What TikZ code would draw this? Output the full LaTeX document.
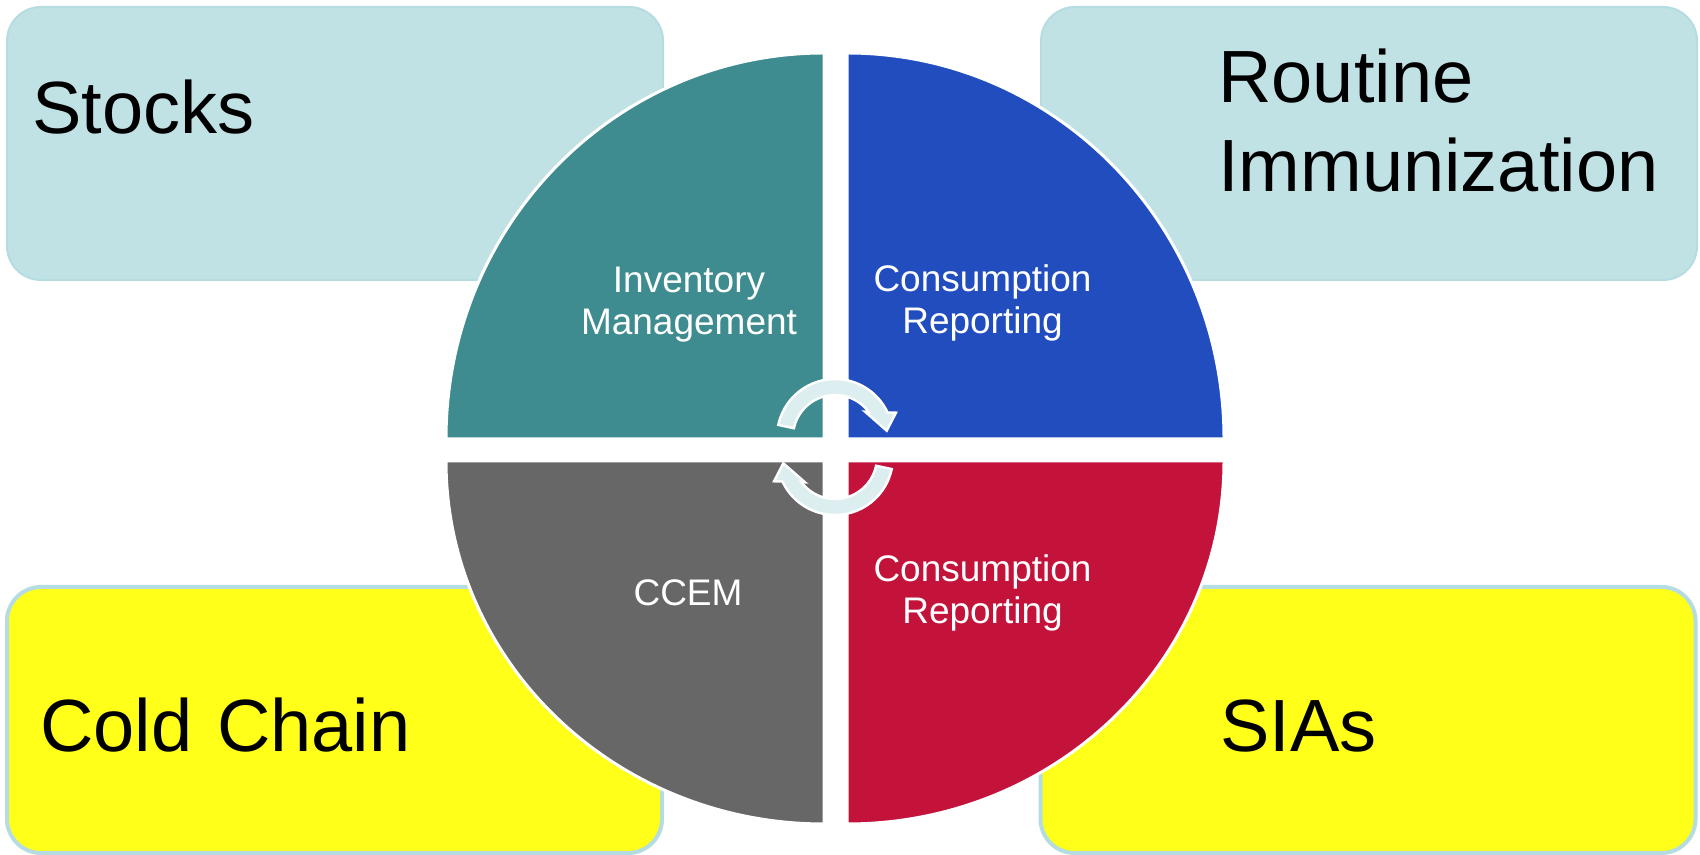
\documentclass[tikz,border=0pt]{standalone}
\usepackage{fontspec}
\setmainfont{Liberation Sans}
\definecolor{boxblue}{HTML}{C1E2E5}
\definecolor{boxedge}{HTML}{B5DCE0}
\definecolor{yelfill}{HTML}{FFFF1A}
\definecolor{qteal}{HTML}{3E8C90}
\definecolor{qblue}{HTML}{214DBF}
\definecolor{qgray}{HTML}{676767}
\definecolor{qred}{HTML}{C3133B}
\definecolor{arrfill}{HTML}{DCEEF0}
\begin{document}
\begin{tikzpicture}[x=0.5pt,y=0.5pt,
  bluebox/.style={draw=boxedge, line width=1pt, fill=boxblue, rounded corners=17pt,
    inner sep=0pt, minimum width=328pt, minimum height=136.5pt},
  yelbox/.style={draw=boxedge, line width=2pt, fill=yelfill, rounded corners=17pt,
    inner sep=0pt, minimum width=327.5pt, minimum height=133pt},
  bigtext/.style={inner sep=0pt, anchor=base west, font=\fontsize{37}{44.5}\selectfont,
    text=black, align=left, text width=300pt},
  quad/.style={draw=white, line width=1.5pt},
  qtext/.style={inner sep=0pt, anchor=base, font=\fontsize{18.5}{21}\selectfont,
    text=white, align=center, text width=120pt},
  cyc/.style={draw=white, line width=1.2pt, fill=arrfill, line join=miter}]
\useasboundingbox[fill=white] (0,0) rectangle (1700,855);

% side boxes
\node[bluebox] (stocksbox) at (335,711.5) {};
\node[bluebox] (routinebox) at (1369,711.5) {};
\node[yelbox] (coldbox) at (334.5,135) {};
\node[yelbox] (siabox) at (1368,135) {};

% quadrants
\path[quad, fill=qteal] (824,416) -- (446,416) arc[start angle=180,end angle=90,x radius=378,y radius=386] -- cycle;
\path[quad, fill=qblue] (847,416) -- (847,802) arc[start angle=90,end angle=0,x radius=377,y radius=386] -- cycle;
\path[quad, fill=qgray] (824,394) -- (824,31) arc[start angle=270,end angle=180,x radius=378,y radius=363] -- cycle;
\path[quad, fill=qred] (847,394) -- (1224,394) arc[start angle=0,end angle=-90,x radius=377,y radius=363] -- cycle;

% side texts
\node[bigtext] (stocks) at (32,721) {Stocks};
\node[bigtext] (routine) at (1218,752) {Routine\\Immunization};
\node[bigtext] (cold) at (40,103) {Cold Chain};
\node[bigtext] (sias) at (1220,103) {SIAs};

% quadrant texts
\node[qtext] (inv) at (689,562) {Inventory\\Management};
\node[qtext] (cons1) at (982.5,563) {Consumption\\Reporting};
\node[qtext] (ccem) at (688,249) {CCEM};
\node[qtext] (cons2) at (982.5,273) {Consumption\\Reporting};

% cycle arrows
\begin{scope}[shift={(835,418)}]
\path[cyc] (168:58) arc[start angle=168,end angle=25,radius=58] -- (61,24.3) -- (51.7,6.3) -- (30,25.3) -- (36.5:42) arc[start angle=36.5,end angle=168,radius=42] -- cycle;
\end{scope}
\begin{scope}[shift={(835,398)},rotate=180]
\path[cyc] (168:58) arc[start angle=168,end angle=25,radius=58] -- (61,24.3) -- (51.7,6.3) -- (30,25.3) -- (36.5:42) arc[start angle=36.5,end angle=168,radius=42] -- cycle;
\end{scope}
\end{tikzpicture}
\end{document}
